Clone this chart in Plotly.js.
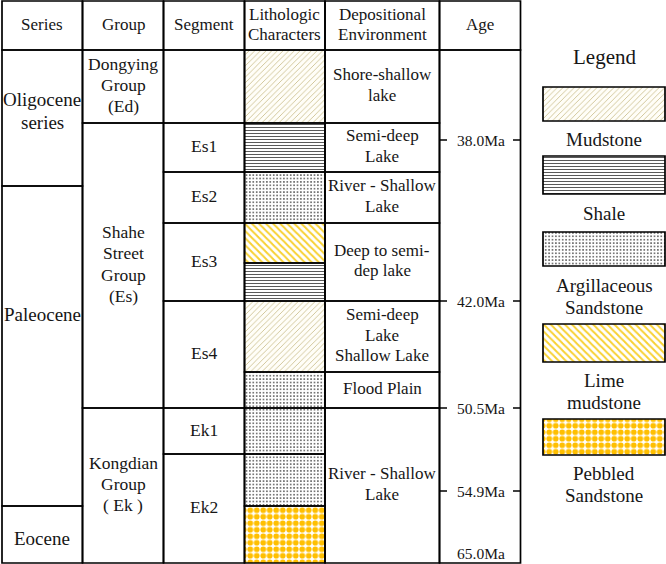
<!DOCTYPE html>
<html><head><meta charset="utf-8">
<script src="https://cdn.plot.ly/plotly-3.0.1.min.js"></script>
<style>html,body{margin:0;padding:0;background:#fff}#chart{width:666px;height:564px}</style>
</head><body><div id="chart"></div>
<script>
// ---------- DATA (depth units, 0 = top of column, 513 = base) ----------
const headers = ['Series','Group','Segment','Lithologic<br>Characters','Depositional<br>Environment','Age'];

const seriesNames = ['Oligocene<br>series','Paleocene','Eocene'];
const seriesTop = [0,136,456];
const seriesBottom = [136,456,513];
const seriesLabelDepth = [61,264,488];

const groupNames = ['Dongying<br>Group<br>(Ed)','Shahe<br>Street<br>Group<br>(Es)','Kongdian<br>Group<br>( Ek )'];
const groupTop = [0,73,358];
const groupBottom = [73,358,513];

const segmentNames = ['','Es1','Es2','Es3','Es4','Ek1','Ek2'];
const segmentTop = [0,73,122,173,251,358,404];
const segmentBottom = [73,122,173,251,358,404,513];

const lithType = ['Mudstone','Shale','Argillaceous Sandstone','Lime mudstone','Shale','Mudstone',
                  'Argillaceous Sandstone','Argillaceous Sandstone','Argillaceous Sandstone','Pebbled Sandstone'];
const lithTop = [0,73,122,173,213,251,322,358,404,456];
const lithBottom = [73,122,173,213,251,322,358,404,456,513];

const envNames = ['Shore-shallow<br>lake','Semi-deep<br>Lake','River - Shallow<br>Lake','Deep to semi-<br>dep lake',
                  'Semi-deep<br>Lake<br>Shallow Lake','Flood Plain','River - Shallow<br>Lake'];
const envTop = [0,73,122,173,251,322,358];
const envBottom = [73,122,173,251,322,358,513];

const ageLabels = ['38.0Ma','42.0Ma','50.5Ma','54.9Ma','65.0Ma'];
const ageDepth = [90,251,358,441,513];

const legendTypes = ['Mudstone','Shale','Argillaceous Sandstone','Lime mudstone','Pebbled Sandstone'];
const legendLabels = ['Mudstone','Shale','Argillaceous<br>Sandstone','Lime<br>mudstone','Pebbled<br>Sandstone'];

// ---------- LAYOUT / STYLE ----------
const FONT = '"Liberation Serif", "Times New Roman", Times, serif';
const COLX = {series:[2,82.5], group:[82.5,163.5], segment:[163.5,244.5], lith:[244.5,325], env:[325,439.5], age:[439.5,520.5]};
const colKeys = ['series','group','segment','lith','env','age'];
const HEADER_TOP = -49;
const LEG_X = [543,665];
const legBoxTop = [37,106,182,274,369];   // depth units
const legBoxH = [34,38,34,38,36];
const legLabelY = [89,163,246,341,434];

const patterns = {
  'Mudstone': {shape:'/', fgcolor:'#c8ba86', bgcolor:'#fffef8', size:4, solidity:0.2},
  'Shale': {shape:'-', fgcolor:'#5a5a5a', bgcolor:'#ffffff', size:3, solidity:0.35},
  'Argillaceous Sandstone': {shape:'.', fgcolor:'#555555', bgcolor:'#ffffff', size:3.4, solidity:0.22},
  'Lime mudstone': {shape:'\\', fgcolor:'#f8d131', bgcolor:'#ffffff', size:5, solidity:0.4},
  'Pebbled Sandstone': {shape:'.', fgcolor:'#ffbf00', bgcolor:'#ffffff', size:6.5, solidity:0.62}
};

const shapes = [], ann = [];
function rect(x0,x1,y0,y1,w){
  shapes.push({type:'rect',xref:'x',yref:'y',x0:x0,x1:x1,y0:y0,y1:y1,
    line:{color:'#000',width:w||1.7},fillcolor:'rgba(0,0,0,0)',layer:'above'});
}
function line(x0,x1,y0,y1,w){
  shapes.push({type:'line',xref:'x',yref:'y',x0:x0,x1:x1,y0:y0,y1:y1,line:{color:'#000',width:w||1.5},layer:'above'});
}
function label(text,x,y,size,spacing){
  const lines = text.split('<br>'); const n = lines.length;
  lines.forEach((t,i)=>{
    ann.push({text:t,x:x,y:y+(i-(n-1)/2)*spacing,xref:'x',yref:'y',showarrow:false,
      xanchor:'center',yanchor:'middle',font:{family:FONT,size:size,color:'#161616'}});
  });
}
const mid = c => (COLX[c][0]+COLX[c][1])/2;

// header
colKeys.forEach((k,i)=>{ rect(COLX[k][0],COLX[k][1],HEADER_TOP,0); label(headers[i],mid(k),-26,17,20); });

// series
seriesNames.forEach((s,i)=>{ rect(COLX.series[0],COLX.series[1],seriesTop[i],seriesBottom[i]); label(s,mid('series'),seriesLabelDepth[i],19,22.5); });
// group
groupNames.forEach((s,i)=>{ rect(COLX.group[0],COLX.group[1],groupTop[i],groupBottom[i]); label(s,mid('group'),(groupTop[i]+groupBottom[i])/2-1.5,17.5,21.3); });
// segment
segmentNames.forEach((s,i)=>{ rect(COLX.segment[0],COLX.segment[1],segmentTop[i],segmentBottom[i]); if(s) label(s,mid('segment'),(segmentTop[i]+segmentBottom[i])/2-1.5,17.5,21); });
// environment
envNames.forEach((s,i)=>{ rect(COLX.env[0],COLX.env[1],envTop[i],envBottom[i]); label(s,mid('env'),(envTop[i]+envBottom[i])/2-1.5,17,20.8); });
// lithology cell borders
lithType.forEach((t,i)=>{ rect(COLX.lith[0],COLX.lith[1],lithTop[i],lithBottom[i]); });
// age column
rect(COLX.age[0],COLX.age[1],0,513);
ageLabels.forEach((a,i)=>{
  const last = i===ageLabels.length-1;
  if(!last){
    line(COLX.age[0],COLX.age[0]+7.5,ageDepth[i],ageDepth[i]);
    line(COLX.age[1]-7.5,COLX.age[1],ageDepth[i],ageDepth[i]);
  }
  label(a,mid('age')+0.5,ageDepth[i]-(last?10:0),15.5,20);
});

// legend
label('Legend',604,7,21,24);
legendLabels.forEach((s,i)=>{ label(s,604,legLabelY[i],19,22); });

// bars
const traces = [];
Object.keys(patterns).forEach(type=>{
  const idx = lithType.map((t,i)=>t===type?i:-1).filter(i=>i>=0);
  traces.push({type:'bar', orientation:'v',
    x: idx.map(()=>mid('lith')), base: idx.map(i=>lithTop[i]), y: idx.map(i=>lithBottom[i]-lithTop[i]),
    width: idx.map(()=>COLX.lith[1]-COLX.lith[0]),
    marker:{color:'#ffffff', pattern:patterns[type], line:{width:0}}, hoverinfo:'skip', name:type});
  const li = legendTypes.indexOf(type);
  traces.push({type:'bar', orientation:'v',
    x:[(LEG_X[0]+LEG_X[1])/2], base:[legBoxTop[li]], y:[legBoxH[li]], width:[LEG_X[1]-LEG_X[0]],
    marker:{color:'#ffffff', pattern:patterns[type], line:{width:1.7,color:'#000'}}, hoverinfo:'skip', name:type+' legend'});
});

const layout = {
  width:666, height:564, margin:{l:0,r:0,t:0,b:0,pad:0},
  font:{family:FONT},
  paper_bgcolor:'#ffffff', plot_bgcolor:'#ffffff', showlegend:false, barmode:'overlay',
  xaxis:{range:[0,666], visible:false, fixedrange:true},
  yaxis:{range:[514,-50], visible:false, fixedrange:true},
  shapes:shapes, annotations:ann, hovermode:false
};
Plotly.newPlot('chart', traces, layout, {staticPlot:true, displayModeBar:false});
</script>
</body></html>
